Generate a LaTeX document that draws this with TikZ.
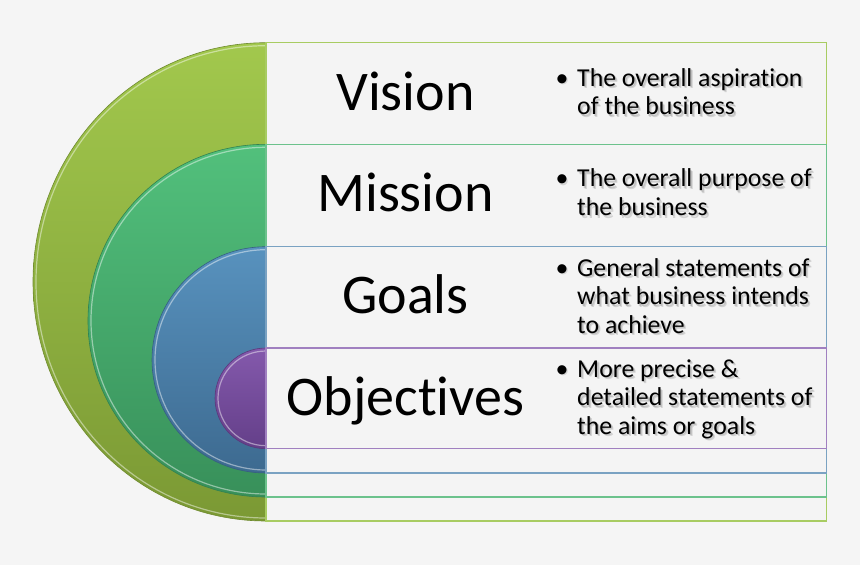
\documentclass[tikz,border=0pt]{standalone}
\usepackage{fontspec}
\setmainfont[Ligatures=NoCommon]{Carlito}
\definecolor{bg}{HTML}{F5F5F5}
\definecolor{boxfill}{HTML}{F4F4F4}
\definecolor{visT}{HTML}{A2C84D}
\definecolor{visB}{HTML}{7B9934}
\definecolor{visE}{HTML}{A8CC62}
\definecolor{misT}{HTML}{52C07C}
\definecolor{misB}{HTML}{38905A}
\definecolor{misE}{HTML}{6CC28C}
\definecolor{goaT}{HTML}{5892BE}
\definecolor{goaB}{HTML}{3D6A90}
\definecolor{goaE}{HTML}{7AA2C2}
\definecolor{objT}{HTML}{8459AC}
\definecolor{objB}{HTML}{643F89}
\definecolor{objE}{HTML}{A080C0}
\tikzset{
  titletext/.style={anchor=base, inner sep=0, font=\fontsize{56}{60}\selectfont},
  bullettext/.style={anchor=base west, align=left, inner sep=0, font=\fontsize{25.8}{28.5}\selectfont},
  bulletmark/.style={anchor=base, inner sep=0, font=\fontsize{25.8}{28.5}\selectfont},
  shadowtext/.style={text=black, opacity=0.13},
  rim/.style={white, opacity=0.45, line width=1.2pt},
  rowbox/.style={fill=boxfill, line width=1.1pt}
}
% #1 name, #2 first baseline, #3 number of lines, #4 text
\newcommand\bulletitem[4]{%
  \node[bullettext, shadowtext] (#1s1) at (578.3,#2+28.5*#3-28.5+1.6) {#4};
  \node[bullettext, shadowtext] (#1s2) at (579.3,#2+28.5*#3-28.5+2.8) {#4};
  \node[bulletmark, shadowtext] (#1ms) at (563.2,#2+1.6) {•};
  \node[bulletmark] (#1m) at (562,#2) {•};
  \node[bullettext] (#1) at (577,#2+28.5*#3-28.5) {#4};
}
\begin{document}
\begin{tikzpicture}[x=1pt,y=-1pt]
\fill[bg] (0,0) rectangle (860,565);
% Vision
\shade[top color=visT, bottom color=visB, draw=visB!90!black, line width=0.6pt]
  (266,42.7) arc[start angle=-90, end angle=-270, x radius=233, y radius=239.15] -- cycle;
\draw[rim] (266,45.7) arc[start angle=-90, end angle=-270, x radius=230, y radius=236.15];
\draw[rowbox, draw=visE] (266,42.7) rectangle (826.7,521);
% Mission
\shade[top color=misT, bottom color=misB, draw=misB!90!black, line width=0.6pt]
  (266,144.3) arc[start angle=-90, end angle=-270, x radius=178, y radius=176.35] -- cycle;
\draw[rim] (266,147.3) arc[start angle=-90, end angle=-270, x radius=175, y radius=173.35];
\draw[rowbox, draw=misE] (266,144.3) rectangle (826.7,497);
% Goals
\shade[top color=goaT, bottom color=goaB, draw=goaB!90!black, line width=0.6pt]
  (266,246.7) arc[start angle=-90, end angle=-270, x radius=114, y radius=113.15] -- cycle;
\draw[rim] (266,249.7) arc[start angle=-90, end angle=-270, x radius=111, y radius=110.15];
\draw[rowbox, draw=goaE] (266,246.7) rectangle (826.7,473);
% Objectives
\shade[top color=objT, bottom color=objB, draw=objB!90!black, line width=0.6pt]
  (266,348) arc[start angle=-90, end angle=-270, x radius=51, y radius=50.35] -- cycle;
\draw[rim] (266,351) arc[start angle=-90, end angle=-270, x radius=48, y radius=47.35];
\draw[rowbox, draw=objE] (266,348) rectangle (826.7,448.7);
% titles
\node[titletext] (tvision) at (405.5,110) {Vision};
\node[titletext] (tmission) at (405.5,211.7) {Mission};
\node[titletext] (tgoals) at (405.5,313.7) {Goals};
\node[titletext] (tobj) at (405.5,415.3) {Objectives};
% bullets
\bulletitem{bvision}{86}{2}{The overall aspiration\\of the business}
\bulletitem{bmission}{186.7}{2}{The overall purpose of\\the business}
\bulletitem{bgoals}{276}{3}{General statements of\\what business intends\\to achieve}
\bulletitem{bobj}{377}{3}{More precise \&\\detailed statements of\\the aims or goals}
\end{tikzpicture}
\end{document}
